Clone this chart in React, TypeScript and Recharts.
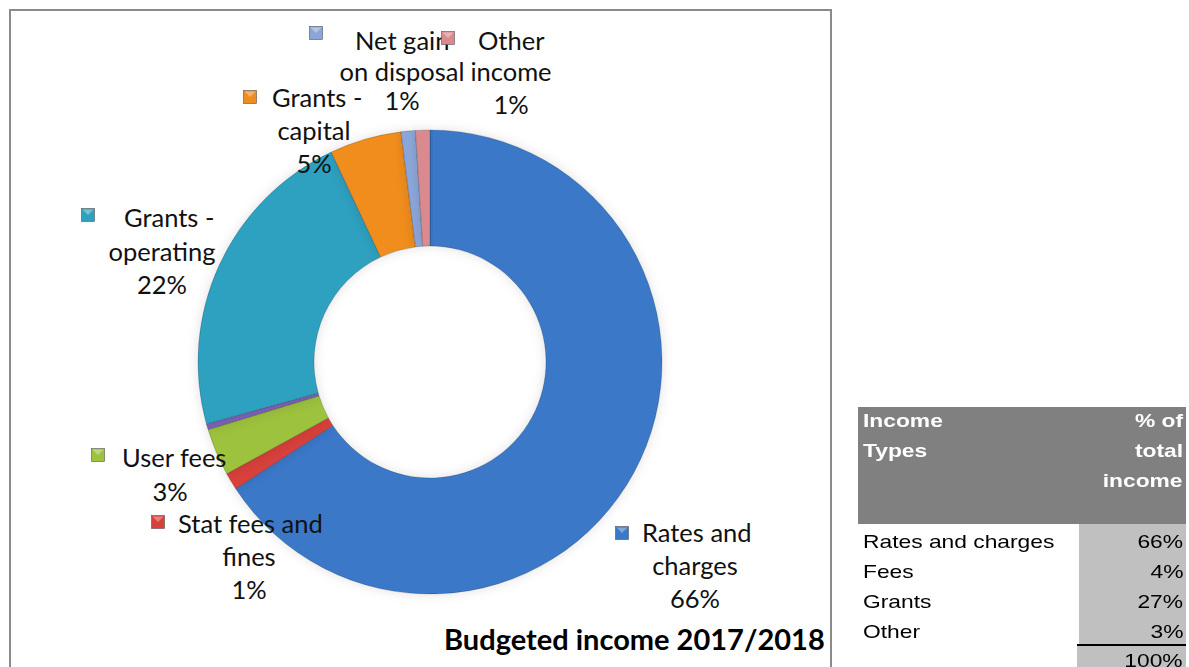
import { Cell, Pie, PieChart } from "recharts";

// slices, clockwise from twelve o'clock
const incomeTypes = [
  "Rates and charges",
  "Stat fees and fines",
  "User fees",
  "Contributions",
  "Grants - operating",
  "Grants - capital",
  "Net gain on disposal",
  "Other income"
];
const incomeShares = [65.8, 1.2, 3.3, 0.4, 22.3, 5.0, 1.0, 1.0];
const sliceColors = ["#3a78c8", "#d8403a", "#9dc23c", "#7b62b8", "#2fa0c0", "#f08d1f", "#8aa6d8", "#d98a8e"];
const labelWraps = [
  ["Rates and", "charges"],
  ["Stat fees and", "fines"],
  ["User fees"],
  null,
  ["Grants -", "operating"],
  ["Grants -", "capital"],
  ["Net gain", "on disposal"],
  ["Other", "income"]
];

// summary table
const tableRows = ["Rates and charges", "Fees", "Grants", "Other"];
const tableShares = ["66%", "4%", "27%", "3%"];
const tableTotal = "100%";

const pieData = incomeTypes.map((name, i) => ({ name, value: incomeShares[i] }));

// label placement relative to the pie centre (marker, first-line start, centre of other lines, line ys)
const labelSpots = [
  { mx: 192, my: 171, tx: 212, cx: 265, ys: [170, 203, 236] },
  { mx: -272, my: 160, tx: -252, cx: -181, ys: [161, 194, 227] },
  { mx: -332, my: 93, tx: -308, cx: -260, ys: [95, 129] },
  null,
  { mx: -342, my: -147, tx: -306, cx: -268, ys: [-145, -111, -78] },
  { mx: -180, my: -265, tx: -158, cx: -116, ys: [-265, -232, -199] },
  { mx: -114, my: -329, tx: -75, cx: -28, ys: [-322, -291, -262] },
  { mx: 18, my: -324, tx: 48, cx: 81, ys: [-322, -291, -258] }
];

const labelFont = "Lato, 'Open Sans', sans-serif";
const tableFont = "'Liberation Sans', Arial, sans-serif";

function SliceLabel(props: any) {
  const { cx, cy, index, percent } = props;
  const spot = labelSpots[index];
  const wrap = labelWraps[index];
  if (!spot || !wrap) return null;
  const lines = [...wrap, `${Math.round(percent * 100)}%`];
  const color = sliceColors[index];
  return (
    <g fontFamily={labelFont} fontSize={25.5} fill="#111">
      <rect x={cx + spot.mx - 6.5} y={cy + spot.my - 6.5} width={13} height={13} fill={color} stroke="#555" strokeWidth={0.6} />
      <path d={`M${cx + spot.mx - 5.5} ${cy + spot.my - 5.5} L${cx + spot.mx} ${cy + spot.my} L${cx + spot.mx + 5.5} ${cy + spot.my - 5.5} Z`} fill="#fff" opacity={0.35} />
      {lines.map((line, i) => (
        <text
          key={i}
          x={i === 0 ? cx + spot.tx : cx + spot.cx}
          y={cy + spot.ys[i]}
          textAnchor={i === 0 ? "start" : "middle"}
          dominantBaseline="central"
        >
          {line}
        </text>
      ))}
    </g>
  );
}

// the table text in the reference is stretched sideways
function Wide({ children, right }: { children: React.ReactNode; right?: boolean }) {
  return (
    <span style={{ display: "inline-block", transform: "scaleX(1.2)", transformOrigin: right ? "right center" : "left center", whiteSpace: "nowrap" }}>
      {children}
    </span>
  );
}

export default function App() {
  return (
    <div style={{ position: "absolute", left: 0, top: 0, width: 1189, height: 667, overflow: "hidden", background: "#fff" }}>
      <div style={{ position: "absolute", left: 9, top: 9, width: 823, height: 700, border: "2px solid #8a8a8a", boxSizing: "border-box" }} />
      <div style={{ position: "absolute", left: 10, top: 10 }}>
        <PieChart width={821} height={657} margin={{ top: 0, right: 0, bottom: 0, left: 0 }}>
          <defs>
            <filter id="glow" x="-20%" y="-20%" width="140%" height="140%">
              <feDropShadow dx="0" dy="0" stdDeviation="6" floodColor="#000" floodOpacity="0.12" />
            </filter>
          </defs>
          <Pie
            data={pieData}
            dataKey="value"
            nameKey="name"
            cx={420}
            cy={352}
            innerRadius={116}
            outerRadius={232}
            startAngle={90}
            endAngle={-270}
            stroke="rgba(0,0,0,0.18)"
            strokeWidth={1}
            label={SliceLabel}
            labelLine={false}
            isAnimationActive={false}
            style={{ filter: "url(#glow)" }}
          >
            {pieData.map((entry, i) => (
              <Cell key={entry.name} fill={sliceColors[i]} />
            ))}
          </Pie>
        </PieChart>
      </div>
      <div
        style={{
          position: "absolute",
          left: 444,
          top: 624,
          fontFamily: labelFont,
          fontWeight: 700,
          fontSize: 29,
          lineHeight: "30px",
          color: "#000",
          whiteSpace: "nowrap"
        }}
      >
        Budgeted income 2017/2018
      </div>

      <div style={{ position: "absolute", left: 858, top: 407, width: 328, fontFamily: tableFont, fontSize: 19 }}>
        <div style={{ background: "#808080", color: "#fff", fontWeight: 700, height: 117, position: "relative" }}>
          <div style={{ position: "absolute", left: 5, top: -1, lineHeight: "30px" }}>
            <Wide>Income</Wide>
            <br />
            <Wide>Types</Wide>
          </div>
          <div style={{ position: "absolute", right: 3, top: -1, lineHeight: "30px", textAlign: "right" }}>
            <Wide right>% of</Wide>
            <br />
            <Wide right>total</Wide>
            <br />
            <Wide right>income</Wide>
          </div>
        </div>
        {tableRows.map((row, i) => (
          <div key={row} style={{ display: "flex", height: 30, lineHeight: "36px" }}>
            <div style={{ width: 219, paddingLeft: 5, color: "#000" }}>
              <Wide>{row}</Wide>
            </div>
            <div style={{ width: 109, background: "#c0c0c0", textAlign: "right", paddingRight: 3, boxSizing: "border-box", color: "#000" }}>
              <Wide right>{tableShares[i]}</Wide>
            </div>
          </div>
        ))}
        <div style={{ display: "flex", height: 30, lineHeight: "30px" }}>
          <div style={{ width: 219 }} />
          <div style={{ width: 109, background: "#c0c0c0", borderTop: "2px solid #000", textAlign: "right", paddingRight: 3, boxSizing: "border-box" }}>
            <Wide right>{tableTotal}</Wide>
          </div>
        </div>
      </div>
    </div>
  );
}
